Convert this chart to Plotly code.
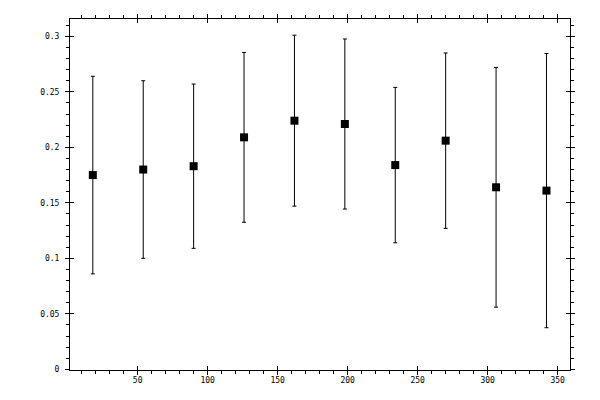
import plotly.graph_objects as go

# bin centres (degrees) and mean values with symmetric errors
angles = [18, 54, 90, 126, 162, 198, 234, 270, 306, 342]
means = [0.175, 0.180, 0.183, 0.209, 0.224, 0.221, 0.184, 0.206, 0.164, 0.161]
errors = [0.089, 0.080, 0.074, 0.0765, 0.077, 0.0766, 0.070, 0.079, 0.108, 0.1235]

X_RANGE = [1.7, 358.8]
Y_RANGE = [-0.0006, 0.3156]
FONT = dict(family="DejaVu Sans Mono", size=8, color="black")

fig = go.Figure()
fig.add_trace(go.Scatter(
    x=angles, y=means, mode="markers",
    marker=dict(symbol="square", size=8, color="black"),
    error_y=dict(type="data", array=errors, visible=True,
                 color="black", thickness=1, width=2),
    showlegend=False,
))
# invisible trace so the overlay axes (inner half of major ticks) get drawn
fig.add_trace(go.Scatter(x=[X_RANGE[0]], y=[Y_RANGE[0]], xaxis="x2", yaxis="y2",
                         mode="markers", marker=dict(opacity=0), showlegend=False,
                         hoverinfo="skip"))

axis_common = dict(showline=True, linecolor="black", linewidth=1, mirror="ticks",
                   showgrid=False, zeroline=False, tickcolor="black", tickwidth=1,
                   tickfont=FONT)

fig.update_layout(
    width=600, height=400,
    margin=dict(l=70, r=30, t=19, b=30),
    plot_bgcolor="white", paper_bgcolor="white",
    xaxis=dict(range=X_RANGE, tick0=0, dtick=50, ticks="outside", ticklen=4,
               minor=dict(ticks="outside", ticklen=3, dtick=10, tick0=0,
                          tickcolor="black", tickwidth=1),
               ticklabelstandoff=-2, **axis_common),
    yaxis=dict(range=Y_RANGE, tick0=0, dtick=0.05, ticks="outside", ticklen=4,
               minor=dict(ticks="outside", ticklen=3, dtick=0.01, tick0=0,
                          tickcolor="black", tickwidth=1),
               ticklabelstandoff=4, **axis_common),
    xaxis2=dict(range=X_RANGE, overlaying="x", anchor="y2", tick0=0, dtick=50,
                ticks="inside", ticklen=4, showticklabels=False, **axis_common),
    yaxis2=dict(range=Y_RANGE, overlaying="y", anchor="x2", tick0=0, dtick=0.05,
                ticks="inside", ticklen=4, showticklabels=False, **axis_common),
)

# drop the default 8px page margin so the figure sits at the window origin
fig.write_html("out.html", config={"displayModeBar": False},
               post_script="document.body.style.margin='0';")
